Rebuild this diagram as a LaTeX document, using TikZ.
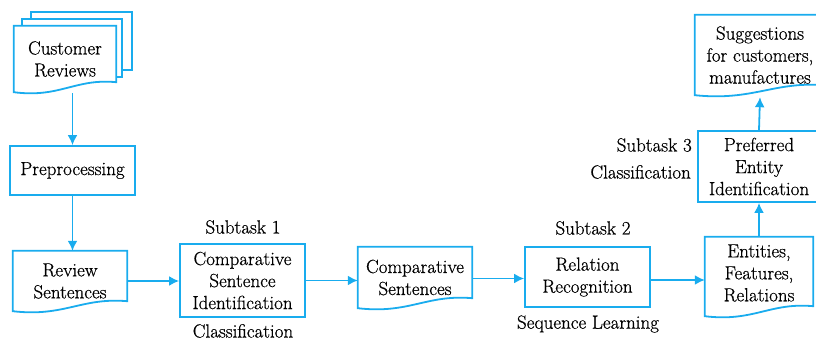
\documentclass[tikz,border=0pt]{standalone}
\usepackage{fontspec}
\setmainfont{Latin Modern Roman}[FakeBold=0.6]
\usetikzlibrary{arrows.meta,calc}
\definecolor{flowblue}{RGB}{25,172,238}
\tikzset{
  docline/.style={draw=flowblue,line width=1.8pt,fill=white,line join=miter},
  procbox/.style={draw=flowblue,line width=1.8pt,fill=white,inner sep=0pt,align=center,font=\rmfamily\fontsize{19}{22}\selectfont},
  docnode/.style={draw=none,inner sep=0pt,align=center,font=\rmfamily\fontsize{19}{22}\selectfont},
  lbl/.style={inner sep=0pt,font=\rmfamily\fontsize{19}{22}\selectfont},
  flow/.style={draw=flowblue,line width=1.8pt,-{Latex[length=10pt,width=10pt]}}
}
\newcommand\wavedoc[1]{%
  \draw[docline] (#1.north west) -- (#1.north east) -- ($(#1.south east)+(0,-10)$)
    .. controls ($(#1.south west)!0.6!(#1.south east)+(0,-14)$) and ($(#1.south west)!0.45!(#1.south east)+(0,6)$) .. (#1.south west) -- cycle;}
\begin{document}
\begin{tikzpicture}[x=1pt,y=-1pt]
\useasboundingbox (0,0) rectangle (816,342);
\clip (0,0) rectangle (816,342);
% Customer reviews (multi-document)
\draw[docline] (31,12) rectangle (132,70);
\draw[docline] (22,19) rectangle (122,77);
\node[docnode,minimum width=102pt,minimum height=66pt] (cr) at (65,59) {};
\wavedoc{cr}
\node[docnode] at (cr) {Customer\\Reviews};
% Preprocessing
\node[procbox,minimum width=125pt,minimum height=49pt] (prep) at (72.5,170.5) {Preprocessing};
% Review sentences
\node[docnode,minimum width=114pt,minimum height=60pt] (rs) at (70,281) {};
\wavedoc{rs}
\node[docnode] at (rs) {Review\\Sentences};
% CSI
\node[procbox,minimum width=125pt,minimum height=73pt] (csi) at (242.5,280.5) {Comparative\\Sentence\\Identification};
% Comparative sentences
\node[docnode,minimum width=114pt,minimum height=61pt] (cs) at (415,277.5) {};
\wavedoc{cs}
\node[docnode] at (cs) {Comparative\\Sentences};
% Relation recognition
\node[procbox,minimum width=125pt,minimum height=60pt] (rr) at (587.5,277) {Relation\\Recognition};
% Entities
\node[docnode,minimum width=108pt,minimum height=79pt] (ent) at (759,276.5) {};
\wavedoc{ent}
\node[docnode] at ([yshift=3.5pt]ent.center) {Entities,\\Features,\\Relations};
% Preferred entity identification
\node[procbox,minimum width=122pt,minimum height=71pt] (pei) at (759,166.5) {Preferred\\Entity\\Identification};
% Suggestions
\node[docnode,minimum width=130pt,minimum height=80pt] (sug) at (760,55) {};
\wavedoc{sug}
\node[docnode] at (sug) {Suggestions\\for customers,\\manufactures};
% Labels
\node[lbl] (s1) at (243,227) {Subtask 1};
\node[lbl] (c1) at (243,331) {Classification};
\node[lbl] (s2) at (593,228) {Subtask 2};
\node[lbl] (sl) at (588,324) {Sequence Learning};
\node[lbl,anchor=east] (s3) at (692,145) {Subtask 3};
\node[lbl,anchor=east] (c3) at (691,172) {Classification};
% Connectors
\draw[flow] ([yshift=-1pt]cr.south -| prep.north) -- (prep.north);
\draw[flow] (prep.south) -- (prep.south |- rs.north);
\draw[flow] (rs.east) -- (rs.east -| csi.west);
\draw[flow] (csi.east) -- (csi.east -| cs.west);
\draw[flow] ([yshift=-1pt]cs.east) -- ([yshift=-1pt]cs.east -| rr.west);
\draw[flow] ([yshift=-3pt]rr.east) -- ([yshift=-3pt]rr.east -| ent.west);
\draw[flow] (ent.north) -- (ent.north |- pei.south);
\draw[flow] (pei.north) -- ([yshift=-2pt]sug.south);
\end{tikzpicture}
\end{document}
